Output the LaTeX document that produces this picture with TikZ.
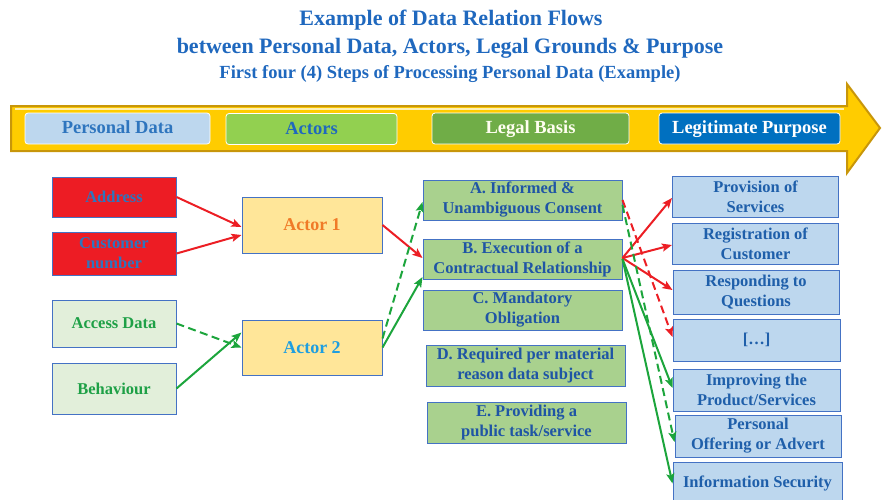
\documentclass[tikz,border=0pt]{standalone}
\usepackage{fontspec}
\setmainfont{Liberation Serif}
\usetikzlibrary{arrows.meta}

\definecolor{titleblue}{RGB}{31,104,190}
\definecolor{boxline}{RGB}{68,114,196}
\definecolor{addrred}{RGB}{237,28,36}
\definecolor{addrtext}{RGB}{46,117,190}
\definecolor{palegreen}{RGB}{226,239,218}
\definecolor{datagreen}{RGB}{30,160,70}
\definecolor{actorfill}{RGB}{255,230,153}
\definecolor{actorone}{RGB}{240,122,40}
\definecolor{actortwo}{RGB}{30,158,224}
\definecolor{legalfill}{RGB}{169,209,142}
\definecolor{legaltext}{RGB}{31,85,165}
\definecolor{purpfill}{RGB}{189,215,238}
\definecolor{purptext}{RGB}{31,95,170}
\definecolor{banneryellow}{RGB}{255,204,0}
\definecolor{bannerdark}{RGB}{200,150,10}
\definecolor{headgreen}{RGB}{146,208,80}
\definecolor{headdark}{RGB}{112,173,71}
\definecolor{headblue}{RGB}{0,112,192}
\definecolor{flowred}{RGB}{236,30,36}
\definecolor{flowgreen}{RGB}{28,165,60}

\begin{document}
\begin{tikzpicture}[x=1pt,y=-1pt,
  box/.style={draw=boxline,line width=1pt,inner sep=0pt,align=center,
    font=\fontsize{16.5}{20}\selectfont\bfseries},
  redbox/.style={box,fill=addrred,text=addrtext,minimum width=124pt},
  greenbox/.style={box,fill=palegreen,text=datagreen,minimum width=124pt},
  actorbox/.style={box,fill=actorfill,minimum width=140pt,minimum height=56pt,
    font=\fontsize{18}{20}\selectfont\bfseries},
  legalbox/.style={box,fill=legalfill,text=legaltext,minimum width=199pt,minimum height=40pt},
  purpbox/.style={box,fill=purpfill,text=purptext,minimum width=166pt,minimum height=42pt},
  headbox/.style={rounded corners=3pt,draw=white,line width=0.8pt,inner sep=0pt,
    minimum height=31pt,text height=12.5pt,text depth=2pt,
    font=\fontsize{18.5}{20}\selectfont\bfseries},
  titlebox/.style={text=titleblue,inner sep=0pt},
  redflow/.style={draw=flowred,line width=2pt,-{Stealth[length=10pt,width=8pt,inset=2pt]}},
  greenflow/.style={draw=flowgreen,line width=2pt,-{Stealth[length=10pt,width=8pt,inset=2pt]}},
  flowdash/.style={dash pattern=on 8pt off 4.5pt}]
  \useasboundingbox (0,0) rectangle (882,499);

  \node[titlebox,font=\fontsize{22}{24}\selectfont\bfseries] (titleone) at (451,20) {Example of Data Relation Flows};
  \node[titlebox,font=\fontsize{22}{24}\selectfont\bfseries] (titletwo) at (450,48) {between Personal Data, Actors, Legal Grounds \& Purpose};
  \node[titlebox,font=\fontsize{18.5}{20}\selectfont\bfseries] (titlethree) at (450,74) {First four (4) Steps of Processing Personal Data (Example)};

  \draw[fill=banneryellow,draw=bannerdark,line width=2pt,line join=miter]
    (11,106) -- (847,106) -- (847,84) -- (880,128) -- (847,173) -- (847,151) -- (11,151) -- cycle;
  \draw[white!70!banneryellow,line width=1.5pt] (15,109) -- (844,109);

  \node[headbox,fill=purpfill,text=addrtext,minimum width=185pt] (hdata) at (117.5,128.5) {Personal Data};
  \node[headbox,fill=headgreen,text=titleblue,minimum width=171pt] (hactor) at (311.5,129) {Actors};
  \node[headbox,fill=headdark,text=white!94!yellow,minimum width=197pt] (hlegal) at (530.5,128.5) {Legal Basis};
  \node[headbox,fill=headblue,text=white,minimum width=181pt] (hpurp) at (749.5,128.5) {Legitimate Purpose};

  \node[redbox,minimum height=40pt] (addr) at (114,197) {Address};
  \node[redbox,minimum height=43pt] (custno) at (114,253.5) {Customer\\number};
  \node[greenbox,minimum height=47pt] (access) at (114,323.5) {Access Data};
  \node[greenbox,minimum height=51pt] (behav) at (114,388.5) {Behaviour};

  \node[actorbox,text=actorone] (actorone) at (312,225) {Actor 1};
  \node[actorbox,text=actortwo,minimum height=55pt] (actortwo) at (312,347.5) {Actor 2};

  \node[legalbox] (conA) at (522.5,200) {A. Informed \&\\Unambiguous Consent};
  \node[legalbox] (conB) at (522.5,259) {B. Execution of a\\Contractual Relationship};
  \node[legalbox] (conC) at (522.5,310) {C. Mandatory\\Obligation};
  \node[legalbox,minimum height=41pt] (conD) at (525.5,365.5) {D. Required per material\\reason data subject};
  \node[legalbox,minimum height=41pt] (conE) at (526.5,422.5) {E. Providing a\\public task/service};

  \node[purpbox,minimum height=41pt] (pA) at (755.5,196.5) {Provision of\\Services};
  \node[purpbox,minimum height=41pt] (pB) at (755.5,243.5) {Registration of\\Customer};
  \node[purpbox,minimum height=44pt] (pC) at (756,292) {Responding to\\Questions};
  \node[purpbox,minimum width=167pt] (pD) at (756.5,340) {[\dots]};
  \node[purpbox,minimum width=167pt] (pE) at (756.5,390) {Improving the\\Product/Services};
  \node[purpbox] (pF) at (758,436) {Personal\\Offering or Advert};
  \node[purpbox,minimum width=169pt,minimum height=43pt] (pG) at (757.5,483.5) {Information Security};

  \draw[redflow] (addr.east) -- ([yshift=-2pt]actorone.west);
  \draw[redflow] (custno.east) -- ([yshift=-10pt]actorone.west);
  \draw[greenflow,flowdash] (access.east) -- (actortwo.west);
  \draw[greenflow] (behav.east) -- ([yshift=15pt]actortwo.west);

  \draw[redflow] (actorone.east) -- ([yshift=1pt]conB.west);
  \draw[greenflow,flowdash] ([yshift=9pt]actortwo.east) -- ([yshift=-2pt]conA.west);
  \draw[greenflow] (actortwo.east) -- ([yshift=-18pt]conB.west);

  \draw[redflow] ([yshift=1pt]conB.east) -- ([yshift=-1.5pt]pA.west);
  \draw[redflow] ([yshift=1pt]conB.east) -- ([yshift=-1.5pt]pB.west);
  \draw[redflow] ([yshift=1pt]conB.east) -- ([yshift=2pt]pC.west);
  \draw[redflow,flowdash] (conA.east) -- ([yshift=3pt]pD.west);
  \draw[greenflow,flowdash] ([yshift=-5pt]conA.east) -- ([yshift=-6pt]pF.west);
  \draw[greenflow] (conB.east) -- ([yshift=2pt]pE.west);
  \draw[greenflow] (conB.east) -- (pG.west);
\end{tikzpicture}
\end{document}
